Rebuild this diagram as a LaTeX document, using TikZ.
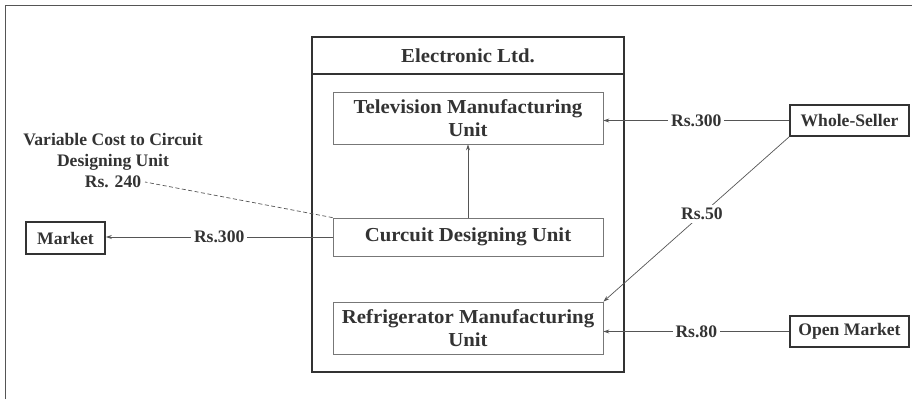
\documentclass[tikz,border=0pt]{standalone}
\usepackage{fontspec}
\setmainfont{Liberation Serif}
\newfontfamily\widefont{Liberation Serif}[FakeStretch=1.05]
\usetikzlibrary{arrows.meta}
\definecolor{txt}{HTML}{333333}
\definecolor{ln}{HTML}{555555}
\begin{document}
\begin{tikzpicture}[x=1pt,y=-1pt,
  every node/.style={font=\fontsize{17.6}{21}\selectfont\bfseries, text=txt},
  big/.style={font=\widefont\fontsize{19.8}{23}\selectfont\bfseries},
  unit/.style={big, draw=ln!80, line width=0.8pt, minimum width=270pt, align=center, inner sep=0pt},
  ext/.style={draw=txt, line width=1.6pt, inner sep=0pt},
  conn/.style={draw=ln, line width=0.7pt},
  arr/.style={conn, -{Stealth[length=6pt,width=4pt]}},
  lbl/.style={fill=white, inner sep=3pt}]
\useasboundingbox (0,0) rectangle (912,399);
% outer frame (top and left only)
\draw[ln, line width=0.9pt] (5,399) -- (5,5.5) -- (912,5.5);
% company box
\node[ext, minimum width=312pt, minimum height=335pt] (elec) at (468,204.5) {};
\node[ext, big, minimum width=312pt, minimum height=37pt] (head) at (468,55.5) {Electronic Ltd.};
% units
\node[unit, minimum height=52pt] (tv) at (468,118) {Television Manufacturing\\Unit};
\node[unit, minimum height=38pt] (cdu) at (468,237) {Curcuit Designing Unit};
\node[unit, minimum height=52pt] (ref) at (468,328) {Refrigerator Manufacturing\\Unit};
% external
\node[ext, minimum width=79pt, minimum height=32pt] (mkt) at (65.5,238) {Market};
\node[ext, minimum width=119pt, minimum height=31pt] (ws) at (849.5,120.5) {Whole-Seller};
\node[ext, minimum width=119pt, minimum height=31pt] (om) at (849.5,331.5) {Open Market};
% variable cost note
\node[align=center, inner sep=0pt] (vc) at (113,161) {Variable Cost to Circuit\\Designing Unit\\Rs. 240};
\coordinate (vcend) at (145,182);
% connectors
\draw[arr] (cdu.north) -- (tv.south);
\draw[arr] (cdu.west) -- node[lbl] {Rs.300} (cdu.west -| mkt.east);
\draw[arr] (ws.west) -- node[lbl] {Rs.300} (ws.west -| tv.east);
\draw[arr] (om.west) -- node[lbl] {Rs.80} (om.west -| ref.east);
\draw[arr] (ws.south west) -- node[lbl, pos=0.47] {Rs.50} (ref.north east);
\draw[conn, dashed, dash pattern=on 4pt off 2.5pt] (cdu.north west) -- (vcend);
\end{tikzpicture}
\end{document}
